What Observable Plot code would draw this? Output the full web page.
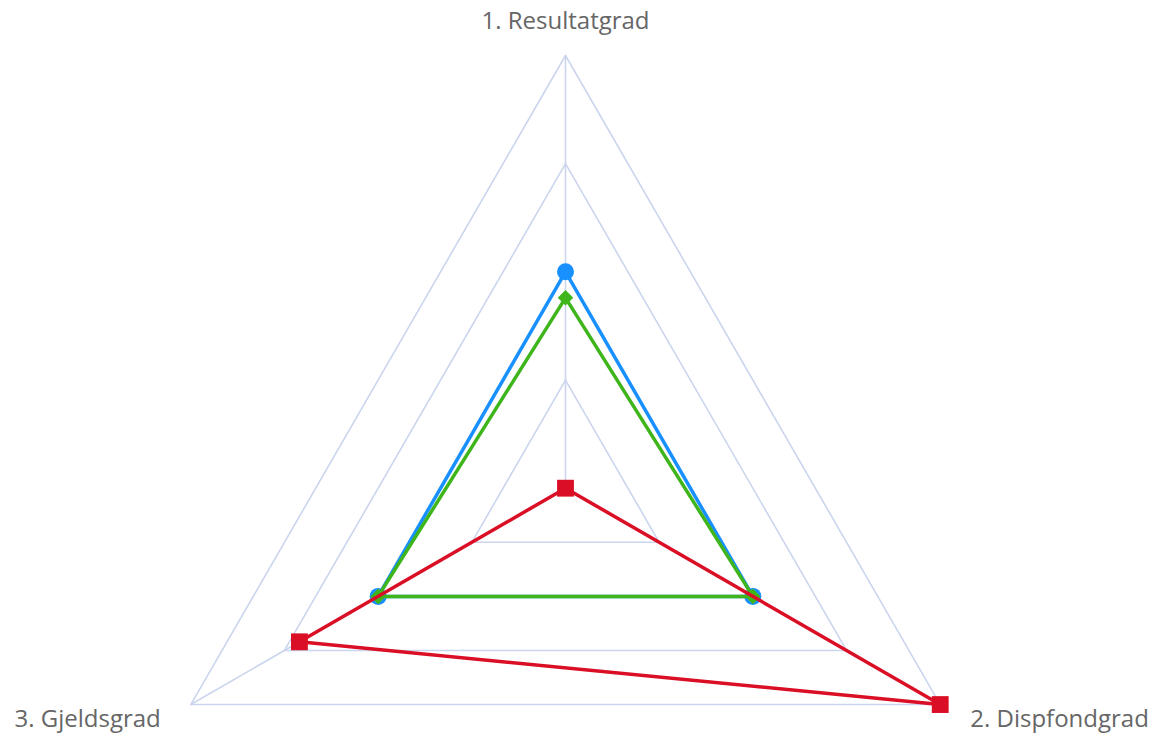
<!DOCTYPE html>
<html>
<head>
<meta charset="utf-8">
<script src="https://cdn.jsdelivr.net/npm/d3@7"></script>
<script src="https://cdn.jsdelivr.net/npm/@observablehq/plot@0.6"></script>
<style>
  html, body { margin: 0; padding: 0; background: #fff; }
  #chart svg { display: block; }
</style>
</head>
<body>
<div id="chart"></div>
<script>
// ---- data ----
const axisLabels = ["1. Resultatgrad", "2. Dispfondgrad", "3. Gjeldsgrad"];
const gridLevels = [0.25, 0.5, 0.75, 1];
const seriesNames = ["Serie 1", "Serie 2", "Serie 3"];
const blueValues  = [0.50, 0.50, 0.50];
const greenValues = [0.44, 0.50, 0.50];
const redValues   = [0.00, 1.00, 0.71];

// ---- geometry helpers ----
const angles = [90, -30, 210].map(d => d * Math.PI / 180);
const pt = (r, i) => ({x: r * Math.cos(angles[i]), y: r * Math.sin(angles[i])});

const gridData = gridLevels.flatMap(level =>
  [0, 1, 2, 0].map(i => ({level, ...pt(level, i)})));
const spokeData = axisLabels.flatMap((label, i) =>
  [{label, x: 0, y: 0}, {label, ...pt(1, i)}]);

const series = [
  {name: seriesNames[0], values: blueValues,  color: "#1890ff", symbol: "circle",   r: 8.5},
  {name: seriesNames[1], values: greenValues, color: "#3fb51c", symbol: "diamond2", r: 7},
  {name: seriesNames[2], values: redValues,   color: "#da0f26", symbol: "square",   r: 9.5}
];

const labelData = axisLabels.map((label, i) => ({label, ...pt(1, i), i}));

const marks = [
  Plot.line(gridData, {x: "x", y: "y", z: "level", stroke: "#ccd5ee", strokeWidth: 1.6}),
  Plot.line(spokeData, {x: "x", y: "y", z: "label", stroke: "#ccd5ee", strokeWidth: 1.6})
];
for (const s of series) {
  const pts = s.values.map((v, i) => ({name: s.name, ...pt(v, i)}));
  marks.push(Plot.line([...pts, pts[0]], {x: "x", y: "y", stroke: s.color, strokeWidth: 3.5}));
  marks.push(Plot.dot(pts, {x: "x", y: "y", fill: s.color, symbol: s.symbol, r: s.r, stroke: "none"}));
}
const textStyle = {x: "x", y: "y", text: "label", fill: "#666", fontSize: 24};
marks.push(Plot.text(labelData.filter(d => d.i === 0), {...textStyle, dy: -34, textAnchor: "middle"}));
marks.push(Plot.text(labelData.filter(d => d.i === 1), {...textStyle, dx: 30, dy: 15, textAnchor: "start"}));
marks.push(Plot.text(labelData.filter(d => d.i === 2), {...textStyle, dx: -30, dy: 15, textAnchor: "end"}));

const R = 432.7, cx = 565, cy = 487.7, W = 1156, H = 736;
const chart = Plot.plot({
  width: W,
  height: H,
  margin: 0,
  style: {fontFamily: "'Open Sans', sans-serif", background: "#fff"},
  x: {domain: [-cx / R, (W - cx) / R], range: [0, W], axis: null},
  y: {domain: [-(H - cy) / R, cy / R], range: [H, 0], axis: null},
  marks
});
document.getElementById("chart").append(chart);
</script>
</body>
</html>
